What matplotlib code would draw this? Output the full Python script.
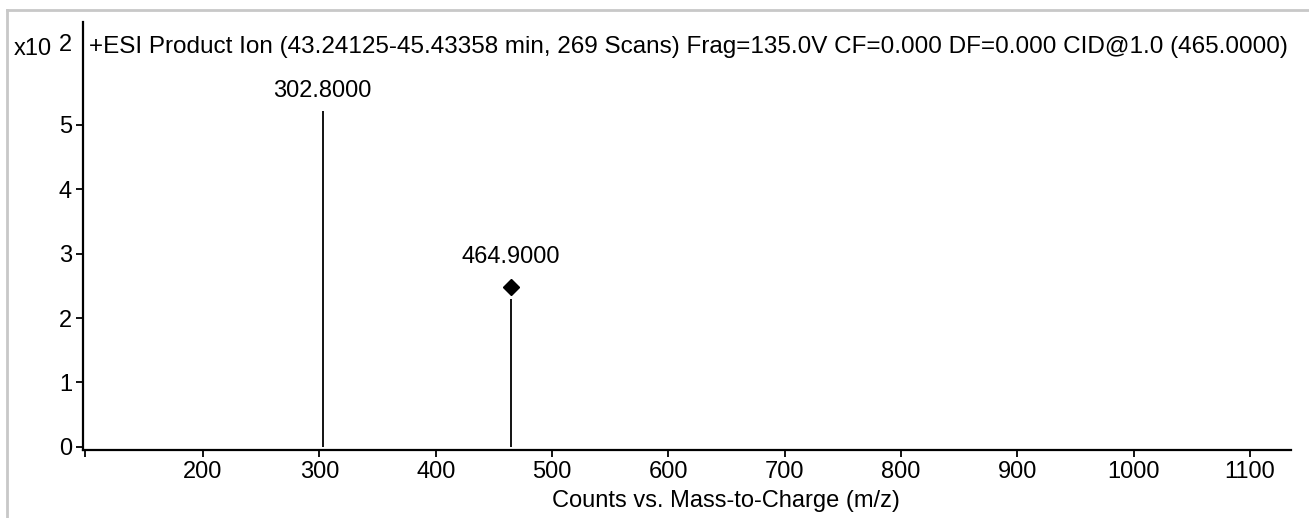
import numpy as np
import matplotlib
matplotlib.use("Agg")
from matplotlib import pyplot as plt
from matplotlib.lines import Line2D

# spectrum data (counts in units of 10^2)
peak_mz = [302.8, 464.9]
peak_counts = [5.22, 2.29]
peak_labels = ['302.8000', '464.9000']
precursor_mz = [464.9]
precursor_counts = [2.49]

x_ticks = [200, 300, 400, 500, 600, 700, 800, 900, 1000, 1100]
y_ticks = [0, 1, 2, 3, 4, 5]
title = '+ESI Product Ion (43.24125-45.43358 min, 269 Scans) Frag=135.0V CF=0.000 DF=0.000 CID@1.0 (465.0000)'
x_label = 'Counts vs. Mass-to-Charge (m/z)'

plt.rcParams['font.family'] = ['Liberation Sans', 'DejaVu Sans']
fs = 17

fig = plt.figure(figsize=(13.09, 5.18), dpi=100)
ax = fig.add_axes([83 / 1309, 68 / 518, (1291 - 83) / 1309, (450 - 22) / 518])

ax.vlines(peak_mz, 0, peak_counts, color='black', linewidth=1.3)
ax.plot(precursor_mz, precursor_counts, marker='D', color='black', markersize=8, linestyle='none')

# peak labels above the sticks (464.9 label sits over the precursor diamond)
for mz, c, lab in zip(peak_mz, peak_counts, peak_labels):
    top, off = c, 6.5
    if mz in precursor_mz:
        top, off = precursor_counts[precursor_mz.index(mz)], 13
    ax.annotate(lab, (mz, top), xytext=(0, off), textcoords='offset points',
                ha='center', va='bottom', fontsize=fs)

ax.set_xlim(96.8, 1135.2)
ax.set_ylim(-0.05, 6.6)
ax.set_xticks([98.5] + x_ticks)
ax.set_xticklabels([''] + [str(t) for t in x_ticks])
ax.set_yticks(y_ticks)
ax.tick_params(axis='both', labelsize=fs, length=5, width=1.3, direction='out', pad=3)
ax.spines['top'].set_visible(False)
ax.spines['right'].set_visible(False)
ax.spines['left'].set_linewidth(1.6)
ax.spines['bottom'].set_linewidth(1.6)
ax.set_xlabel(x_label, fontsize=fs)
ax.xaxis.set_label_coords(0.532, -0.094)

fig.text(89 / 1309, 1 - 47 / 518, title, fontsize=17.5, ha='left', va='center')
fig.text(14 / 1309, 1 - 49 / 518, 'x10', fontsize=fs, ha='left', va='center')
fig.text(59 / 1309, 1 - 45 / 518, '2', fontsize=fs, ha='left', va='center')

# gray panel frame
fig.add_artist(Line2D([7 / 1309, 7 / 1309], [0, 1 - 10 / 518], transform=fig.transFigure, color='#c8c8c8', linewidth=2))
fig.add_artist(Line2D([7 / 1309, 1], [1 - 10 / 518, 1 - 10 / 518], transform=fig.transFigure, color='#c8c8c8', linewidth=2))

fig.savefig('out.png', dpi=100)
